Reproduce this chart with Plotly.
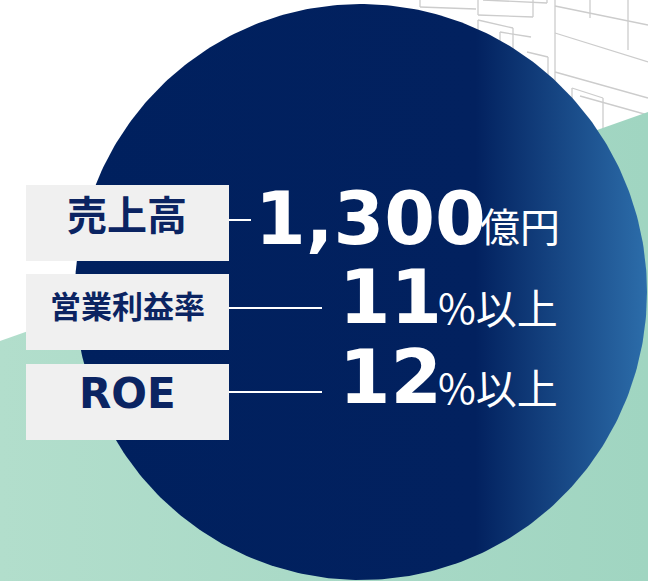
import numpy as np
import plotly.graph_objects as go

# ---- data ----
labels = ["売上高", "営業利益率", "ROE"]
values = ["1,300", "11", "12"]
units = ["億円", "%以上", "%以上"]

W, H = 648, 581
NAVY = "#0B2462"
BOX = "#F0F0F0"

fig = go.Figure()

# decorative circuit lines (background, top right)
circuit = [
    ((420, 0), (420, 7)), ((420, 7), (476, 9)),
    ((478, 0), (478, 15)), ((478, 15), (533, 17)), ((533, 0), (533, 17)),
    ((483, 0), (547, 3)), ((547, 0), (547, 3)),
    ((478, 20), (478, 32)), ((478, 20), (513, 28)), ((513, 28), (513, 66)),
    ((500, 32), (500, 45)), ((500, 32), (531, 37)),
    ((527, 52), (548, 57)), ((548, 57), (548, 78)),
    ((555, 0), (555, 82)), ((555, 6), (648, 25)),
    ((590, 0), (590, 18)), ((628, 0), (628, 50)),
    ((555, 33), (648, 62)), ((555, 72), (648, 98)),
    ((572, 88), (603, 98)), ((572, 88), (572, 112)), ((603, 98), (603, 130)),
    ((580, 96), (648, 115)),
]
shapes = []
for (a, b) in circuit:
    shapes.append(dict(type="line", x0=a[0], y0=a[1], x1=b[0], y1=b[1],
                       line=dict(color="#CCCCCC", width=1.3), layer="below"))

# green background band
fig.add_trace(go.Scatter(
    x=[0, W, W, 0, 0], y=[341, 112, H, H, 341], mode="lines",
    line=dict(width=0), fill="toself",
    fillgradient=dict(type="horizontal",
                      colorscale=[[0, "#B2DECC"], [1, "#A0D5C1"]]),
    hoverinfo="skip", showlegend=False))

# big gradient circle
cx, cy, rx, ry = 361, 292, 286, 288
t = np.linspace(0, 2 * np.pi, 400)
fig.add_trace(go.Scatter(
    x=cx + rx * np.cos(t), y=cy + ry * np.sin(t), mode="lines",
    line=dict(width=0), fill="toself",
    fillgradient=dict(type="horizontal",
                      colorscale=[[0, "#00205E"], [0.70, "#02215F"],
                                  [1, "#2C6DAA"]]),
    hoverinfo="skip", showlegend=False))

# label boxes and connectors
box_tops = [185, 274, 364]
box_h = 76
line_y = [220, 308, 392]
line_end = [251, 322, 322]
for i in range(3):
    shapes.append(dict(type="rect", x0=26, x1=229, y0=box_tops[i],
                       y1=box_tops[i] + box_h, fillcolor=BOX,
                       line=dict(width=0), layer="above"))
    shapes.append(dict(type="line", x0=229, x1=line_end[i], y0=line_y[i],
                       y1=line_y[i], line=dict(color="white", width=2),
                       layer="above"))

annotations = []
label_fonts = [
    dict(family="Noto Sans CJK JP", size=40, color=NAVY, weight="bold"),
    dict(family="Noto Sans CJK JP", size=31, color=NAVY, weight="bold"),
    dict(family="DejaVu Sans", size=42, color=NAVY, weight="bold"),
]
label_y = [213, 304, 393]
for i in range(3):
    annotations.append(dict(x=127, y=label_y[i], text=labels[i],
                            showarrow=False, xanchor="center",
                            yanchor="middle", font=label_fonts[i]))

val_x = [253, 337, 337]
val_y = [218, 297, 377]
val_size = [73, 74, 74]
unit_x = [478, 436, 436]
unit_y = [225, 306, 386]
unit_size = [40, 41, 41]
for i in range(3):
    annotations.append(dict(x=val_x[i], y=val_y[i], text=values[i],
                            showarrow=False, xanchor="left", yanchor="middle",
                            font=dict(family="DejaVu Sans", size=val_size[i],
                                      color="white", weight="bold")))
    annotations.append(dict(x=unit_x[i], y=unit_y[i], text=units[i],
                            showarrow=False, xanchor="left", yanchor="middle",
                            font=dict(family="Noto Sans CJK JP",
                                      size=unit_size[i], color="white")))

fig.update_layout(
    width=W, height=H, margin=dict(l=0, r=0, t=0, b=0),
    paper_bgcolor="white", plot_bgcolor="white",
    xaxis=dict(range=[0, W], visible=False, fixedrange=True),
    yaxis=dict(range=[H, 0], visible=False, fixedrange=True),
    shapes=shapes, annotations=annotations, showlegend=False,
)

fig.write_html("out.html", config={"displayModeBar": False},
               post_script="document.body.style.margin='0';")
